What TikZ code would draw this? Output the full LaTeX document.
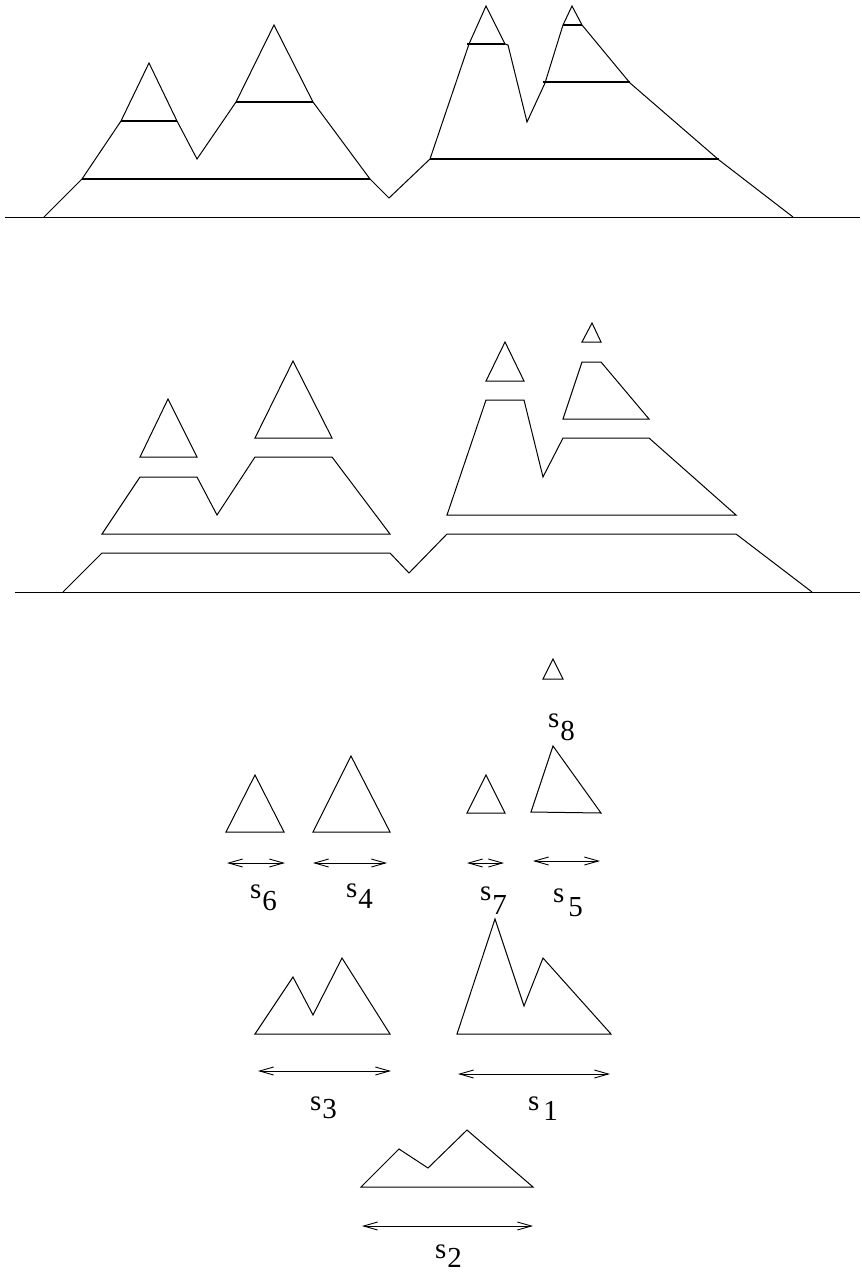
\documentclass[tikz,border=0pt]{standalone}
\usepackage{fontspec}
\setmainfont{Liberation Serif}
\usetikzlibrary{arrows.meta}
\newcommand\slabel[3]{s\kern#1pt\raisebox{-#2pt}{#3}}
\begin{document}
\begin{tikzpicture}[x=1pt,y=-1pt,line join=miter,
  outline/.style={draw=black,line width=1pt},
  cut/.style={draw=black,line width=1.25pt},
  dim/.style={draw=black,line width=0.9pt,{Straight Barb[length=14pt,width=8pt]}-{Straight Barb[length=14pt,width=8pt]}},
  lab/.style={anchor=base west,inner sep=0pt,font=\fontsize{29}{32}\selectfont}]
\useasboundingbox (0,0) rectangle (862,1272);

% ---------- top panel ----------
\draw[outline] (5,217) -- (860,217);
\draw[outline] (44,217) -- (82,179) -- (121,121) -- (149,63) -- (177,121) -- (197,159)
  -- (236,102) -- (274,25) -- (313,102) -- (370,179) -- (389,198) -- (430,159)
  -- (469,44) -- (486,6) -- (505,44) -- (508,45) -- (527,122) -- (545,83)
  -- (563,25) -- (572,6) -- (582,25) -- (630,83) -- (719,160) -- (793,217);
\draw[cut] (82,179) -- (370,179);
\draw[cut] (121,121) -- (177,121);
\draw[cut] (236,102) -- (313,102);
\draw[cut] (430,159) -- (719,159);
\draw[cut] (467,44) -- (505,44);
\draw[cut] (543,82) -- (630,82);
\draw[cut] (563,25) -- (582,25);

% ---------- middle panel ----------
\draw[outline] (15,592) -- (860,592);
\draw[outline] (63,592) -- (102,553) -- (390,553) -- (409,573) -- (447,534) -- (736,534) -- (812,592);
\draw[outline] (102,534) -- (140,477) -- (197,477) -- (217,515) -- (255,457) -- (332,457) -- (390,534) -- cycle;
\draw[outline] (140,457) -- (168,399) -- (197,457) -- cycle;
\draw[outline] (255,438) -- (293,361) -- (332,438) -- cycle;
\draw[outline] (447,515) -- (486,400) -- (524,400) -- (543,477) -- (563,438) -- (649,438) -- (736,515) -- cycle;
\draw[outline] (486,381) -- (505,342) -- (524,381) -- cycle;
\draw[outline] (563,419) -- (582,362) -- (601,362) -- (649,419) -- cycle;
\draw[outline] (582,342) -- (592,323) -- (601,342) -- cycle;

% ---------- bottom panel: pieces ----------
\draw[outline] (543,679) -- (553,659) -- (563,679) -- cycle;
\draw[outline] (226,832) -- (255,775) -- (284,832) -- cycle;
\draw[outline] (313,832) -- (351,756) -- (390,832) -- cycle;
\draw[outline] (467,813) -- (486,775) -- (505,813) -- cycle;
\draw[outline] (531,812) -- (553,746) -- (601,813) -- cycle;
\draw[outline] (255,1034) -- (293,977) -- (313,1015) -- (342,958) -- (390,1034) -- cycle;
\draw[outline] (457,1034) -- (495,919) -- (524,1006) -- (543,958) -- (611,1034) -- cycle;
\draw[outline] (361,1187) -- (399,1149) -- (428,1168) -- (467,1130) -- (533,1187) -- cycle;

% ---------- dimension arrows ----------
\coordinate (a6l) at (227,863); \coordinate (a6r) at (285,863);
\coordinate (a4l) at (313,863); \coordinate (a4r) at (387,863);
\coordinate (a7l) at (467,863); \coordinate (a7r) at (504,863);
\coordinate (a5l) at (533,861); \coordinate (a5r) at (600,861);
\coordinate (a3l) at (258,1071); \coordinate (a3r) at (391,1071);
\coordinate (a1l) at (458,1074); \coordinate (a1r) at (610,1074);
\coordinate (a2l) at (362,1226); \coordinate (a2r) at (533,1226);
\draw[dim] (a6l) -- (a6r);
\draw[dim] (a4l) -- (a4r);
\draw[dim] (a7l) -- (a7r);
\draw[dim] (a5l) -- (a5r);
\draw[dim] (a3l) -- (a3r);
\draw[dim] (a1l) -- (a1r);
\draw[dim] (a2l) -- (a2r);

% ---------- labels ----------
\node[lab] (s8) at (548,727) {\slabel{1}{13}{8}};
\node[lab] (s6) at (250,898) {\slabel{1}{12}{6}};
\node[lab] (s4) at (346,897) {\slabel{1}{11}{4}};
\node[lab] (s7) at (480,900) {\slabel{1}{14}{7}};
\node[lab] (s5) at (553,902) {\slabel{4}{14}{5}};
\node[lab] (s3) at (310,1110) {\slabel{1}{8}{3}};
\node[lab] (s1) at (528,1110) {\slabel{4}{10}{1}};
\node[lab] (s2) at (435,1258) {\slabel{1}{9}{2}};
\end{tikzpicture}
\end{document}
